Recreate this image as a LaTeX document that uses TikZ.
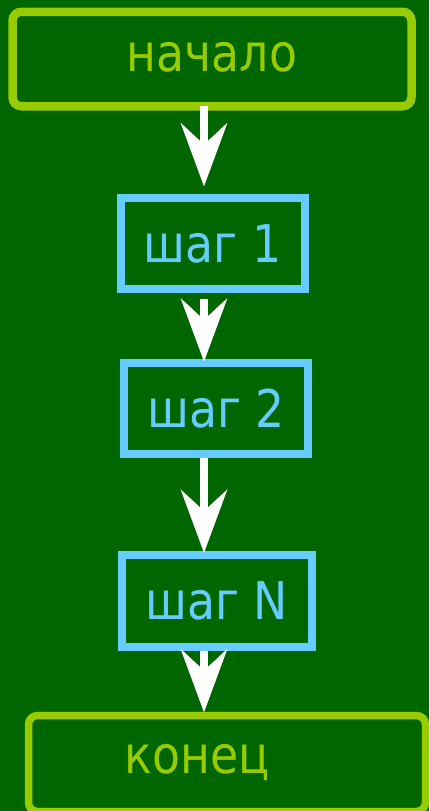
\documentclass[tikz,border=0pt]{standalone}
\usepackage{fontspec}
\setmainfont{DejaVu Sans}[FakeStretch=0.88]
\usetikzlibrary{arrows.meta}
\definecolor{pagegreen}{HTML}{006600}
\definecolor{termgreen}{HTML}{99CC00}
\definecolor{stepblue}{HTML}{66CCFF}

\begin{document}
\begin{tikzpicture}[x=1pt,y=-1pt,
  font=\fontsize{52}{60}\selectfont,
  termbox/.style={draw=termgreen, line width=8.5pt, rounded corners=9pt,
    text=termgreen, outer sep=0pt, inner sep=0pt},
  stepbox/.style={draw=stepblue, line width=8pt, text=stepblue,
    outer sep=0pt, inner sep=0pt, text height=38pt, text depth=0pt},
  flow/.style={draw=white, line width=8.5pt,
    -{Stealth[length=63pt,width=46pt,inset=21pt]}}]

  % page
  \useasboundingbox (0,0) rectangle (429,811);
  \fill[pagegreen] (0,0) rectangle (429,811);

  % boxes
  \node[termbox, minimum width=399pt, minimum height=94.5pt,
        text height=24pt, text depth=0pt] (start) at (212,59) {начало};
  \node[stepbox, minimum width=183.5pt, minimum height=91pt] (s1) at (212.75,243) {шаг 1};
  \node[stepbox, minimum width=184pt, minimum height=91.4pt] (s2) at (216.25,408.5) {шаг 2};
  \node[stepbox, minimum width=190pt, minimum height=91.5pt] (sN) at (216.6,600.75) {шаг N};
  \node[termbox, line width=7.5pt, minimum width=397pt, minimum height=96pt] (finish) at (227,763.5) {};
  \node[text=termgreen, anchor=base, inner sep=0pt] (finishtext) at (197,773) {конец};

  % arrows along one vertical line
  \coordinate (ax) at (204,0);
  \draw[flow, shorten >=11pt] (start.south -| ax) -- (s1.north -| ax);
  \draw[flow, shorten <=10pt, shorten >=1pt] (s1.south -| ax) -- (s2.north -| ax);
  \draw[flow, shorten <=4pt, shorten >=2pt] (s2.south -| ax) -- (sN.north -| ax);
  \draw[flow, shorten <=4.5pt, shorten >=3pt] (sN.south -| ax) -- (finish.north -| ax);
\end{tikzpicture}
\end{document}
